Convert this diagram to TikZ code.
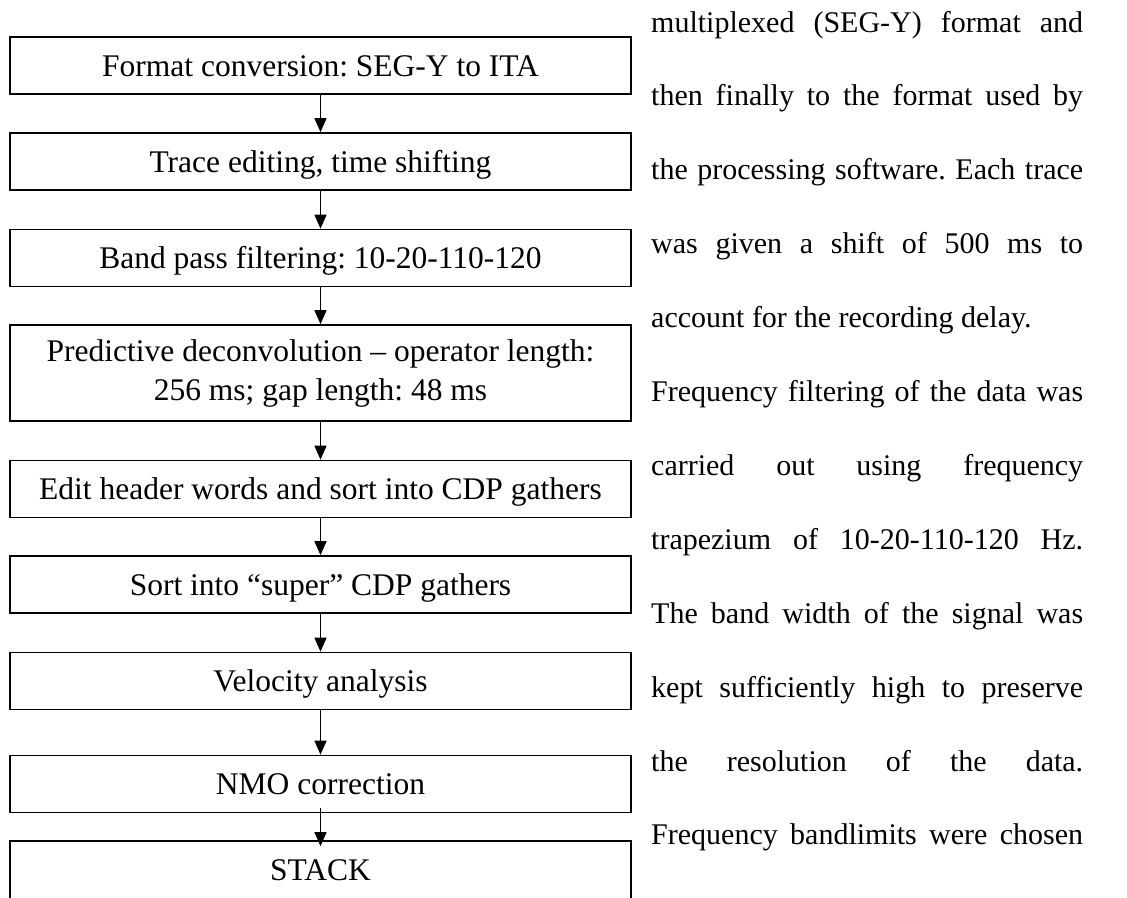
\documentclass[tikz,border=0pt]{standalone}
\usepackage{fontspec}
\setmainfont{Liberation Serif}
\usetikzlibrary{arrows.meta}
\frenchspacing
\begin{document}
\begin{tikzpicture}[x=1pt,y=-1pt,
		box/.style={draw,line width=1.7pt,minimum width=621pt,inner sep=0pt,font=\fontsize{31.5}{39}\selectfont},
		stage/.style={box,minimum height=57pt,text height=21pt,text depth=0pt},
		tall/.style={box,minimum height=96pt,align=center},
		flow/.style={line width=1.5pt,-{Triangle[length=14pt,width=12pt]}},
		para/.style={anchor=base west,inner sep=0pt,font=\fontsize{30}{36}\selectfont}]
	\useasboundingbox(0,0)rectangle(1127,897);
	\clip(0,0)rectangle(1127,897);
	% flow chart
	\node[stage](fmt)at(320.5,65.5){Format conversion: SEG-Y to ITA};
	\node[stage](edit)at(320.5,161.5){Trace editing, time shifting};
	\node[stage](band)at(320.5,258){Band pass filtering: 10-20-110-120};
	\node[tall](decon)at(320.5,373){Predictive deconvolution -- operator length:\\256 ms; gap length: 48 ms};
	\node[stage](sort)at(320.5,489){Edit header words and sort into CDP gathers};
	\node[stage](super)at(320.5,584.5){Sort into ``super'' CDP gathers};
	\node[stage](velo)at(320.5,681){Velocity analysis};
	\node[stage](nmo)at(320.5,784){NMO correction};
	\node[stage,minimum height=58pt](stack)at(320.5,870){STACK};
	\foreach \a/\b in{fmt/edit,edit/band,band/decon,decon/sort,sort/super,super/velo,velo/nmo}
	\draw[flow](\a)--(\b);
	\draw[flow,shorten <=-5pt,shorten >=-6pt](nmo)--(stack);
	% running text
	\foreach \txt [count=\i] in{multiplexed (SEG-Y) format and,then finally to the format used by,the processing software. Each trace,was given a shift of 500 ms to,account for the recording delay.\hfill,Frequency filtering of the data was,carried out using frequency,trapezium of 10-20-110-120 Hz.,The band width of the signal was,kept sufficiently high to preserve,the resolution of the data.,Frequency bandlimits were chosen}
	\node[para](line\i)at(651,{32+73.9*(\i-1)}){\makebox[432pt][s]{\txt}};
\end{tikzpicture}
\end{document}
